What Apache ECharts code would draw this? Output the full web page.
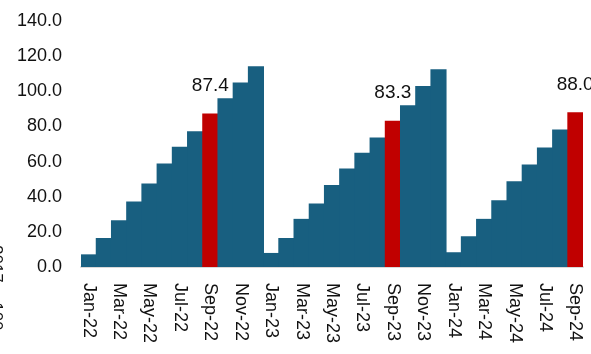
<!DOCTYPE html>
<html>
<head>
<meta charset="utf-8">
<script src="https://cdn.jsdelivr.net/npm/echarts@6/dist/echarts.min.js"></script>
<style>
  html, body { margin: 0; padding: 0; background: #fff; }
  #chart { width: 591px; height: 354px; }
</style>
</head>
<body>
<div id="chart"></div>
<script>
// 月份（每隔一个显示标签）
const months = [
    'Jan-22', 'Feb-22', 'Mar-22', 'Apr-22', 'May-22', 'Jun-22', 'Jul-22', 'Aug-22', 'Sep-22', 'Oct-22', 'Nov-22', 'Dec-22',
    'Jan-23', 'Feb-23', 'Mar-23', 'Apr-23', 'May-23', 'Jun-23', 'Jul-23', 'Aug-23', 'Sep-23', 'Oct-23', 'Nov-23', 'Dec-23',
    'Jan-24', 'Feb-24', 'Mar-24', 'Apr-24', 'May-24', 'Jun-24', 'Jul-24', 'Aug-24', 'Sep-24'
];

// 累计值
const values = [
    7.2, 16.5, 26.6, 37.3, 47.5, 58.9, 68.4, 77.3, 87.4, 96.0, 105.0, 114.3,
    8.0, 16.5, 27.4, 36.1, 46.6, 56.1, 65.0, 73.7, 83.3, 92.1, 103.0, 112.6,
    8.4, 17.5, 27.4, 38.0, 48.8, 58.3, 68.0, 78.3, 88.0
];

// 红色高亮并标数值的月份
const highlightMonths = ['Sep-22', 'Sep-23', 'Sep-24'];

const yTicks = { min: 0, max: 140, interval: 20 };

const blue = '#185f80';
const red = '#c00000';
const font = 'Liberation Sans, Arial, sans-serif';

const chart = echarts.init(document.getElementById('chart'));

const barData = values.map((v, i) => {
    if (highlightMonths.includes(months[i])) {
        return {
            value: v,
            itemStyle: { color: red },
            label: {
                show: true,
                position: 'top',
                distance: 18,
                formatter: p => p.value.toFixed(1),
                fontSize: 19,
                color: '#111',
                fontFamily: font
            }
        };
    }
    return v;
});

const option = {
    animation: false,
    grid: { left: 81, right: 8, top: 21, bottom: 87 },
    xAxis: {
        type: 'category',
        data: months,
        axisLine: { lineStyle: { color: '#d9d9d9', width: 2 } },
        axisTick: { show: false },
        axisLabel: {
            interval: 1,
            rotate: -90,
            margin: 16,
            fontSize: 18,
            color: '#111',
            fontFamily: font
        }
    },
    yAxis: {
        type: 'value',
        min: yTicks.min,
        max: yTicks.max,
        interval: yTicks.interval,
        axisLine: { show: false },
        axisTick: { show: false },
        splitLine: { show: false },
        axisLabel: {
            margin: 19,
            fontSize: 18,
            color: '#111',
            fontFamily: font,
            formatter: v => v.toFixed(1)
        }
    },
    series: [
        {
            type: 'bar',
            data: barData,
            // 稍微重叠，避免相邻柱之间出现细缝
            barCategoryGap: '-6%',
            itemStyle: { color: blue }
        }
    ],
    graphic: [
        {
            // 被裁掉的纵轴标题，只露出一点
            type: 'text',
            x: 4,
            y: 245,
            rotation: -Math.PI / 2,
            style: {
                text: '2017 = 100',
                fontSize: 17,
                fill: '#111',
                textAlign: 'left',
                textVerticalAlign: 'top',
                fontFamily: font
            }
        }
    ]
};

chart.setOption(option);
</script>
</body>
</html>
